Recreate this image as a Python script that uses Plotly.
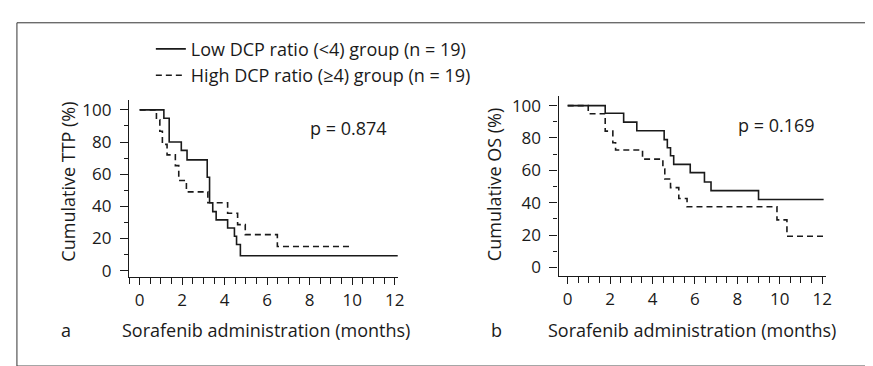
import plotly.graph_objects as go

# ---- data ----
ttp_low_t = [0, 1.14, 1.39, 1.96, 2.23, 3.18, 3.29, 3.44, 3.60, 4.14, 4.46, 4.56, 4.74, 12.15]
ttp_low_v = [100, 94.8, 80.0, 74.8, 68.9, 58.1, 42.2, 36.7, 31.6, 26.5, 21.4, 16.3, 9.3, 9.3]
ttp_high_t = [0, 0.79, 0.95, 1.07, 1.29, 1.68, 1.84, 2.20, 3.21, 4.14, 4.61, 4.97, 6.48, 9.98]
ttp_high_v = [100, 93.8, 86.7, 78.5, 72.0, 65.3, 56.1, 49.0, 42.2, 35.7, 28.6, 22.4, 15.0, 15.0]

os_low_t = [0, 1.77, 2.64, 3.26, 4.55, 4.70, 4.85, 5.00, 5.78, 6.45, 6.76, 9.00, 12.07]
os_low_v = [100, 95.3, 89.8, 84.5, 79.0, 74.0, 69.0, 63.7, 58.6, 52.8, 47.5, 42.0, 42.0]
os_high_t = [0, 0.97, 1.77, 2.13, 2.26, 3.53, 4.49, 4.58, 4.85, 5.24, 5.63, 9.87, 10.34, 12.07]
os_high_v = [100, 95.0, 84.2, 77.0, 72.6, 66.9, 60.8, 54.7, 49.3, 42.6, 37.5, 29.4, 19.3, 19.3]

series_names = ["Low DCP ratio (<4) group (n = 19)", "High DCP ratio (\u22654) group (n = 19)"]
x_ticks = [0, 2, 4, 6, 8, 10, 12]
y_ticks = [0, 20, 40, 60, 80, 100]
y_titles = ["Cumulative TTP (%)", "Cumulative OS (%)"]
x_title = "Sorafenib administration (months)"
p_values = ["p = 0.874", "p = 0.169"]
panel_labels = ["a", "b"]

W, H = 873, 366
FONT = "Open Sans"
INK = "#1a1a1a"
DASH = "6px,4px"
TXT = 18
TICK = 17

fig = go.Figure()
fig.add_trace(go.Scatter(x=ttp_low_t, y=ttp_low_v, mode="lines", line_shape="hv",
                         line=dict(color=INK, width=1.6), name=series_names[0],
                         xaxis="x", yaxis="y", legendgroup="low"))
fig.add_trace(go.Scatter(x=ttp_high_t, y=ttp_high_v, mode="lines", line_shape="hv",
                         line=dict(color=INK, width=1.6, dash=DASH), name=series_names[1],
                         xaxis="x", yaxis="y", legendgroup="high"))
fig.add_trace(go.Scatter(x=os_low_t, y=os_low_v, mode="lines", line_shape="hv",
                         line=dict(color=INK, width=1.6), name=series_names[0],
                         xaxis="x2", yaxis="y2", legendgroup="low", showlegend=False))
fig.add_trace(go.Scatter(x=os_high_t, y=os_high_v, mode="lines", line_shape="hv",
                         line=dict(color=INK, width=1.6, dash=DASH), name=series_names[1],
                         xaxis="x2", yaxis="y2", legendgroup="high", showlegend=False))

def px_x(p):
    return p / W

def px_y(p):
    return 1 - p / H

xcommon = dict(showline=True, linecolor=INK, linewidth=1.2, ticks="outside", ticklen=7,
               tickcolor=INK, tickwidth=1, tickvals=x_ticks, showgrid=False, zeroline=False,
               tickfont=dict(family=FONT, size=TICK, color=INK),
               minor=dict(dtick=0.5, tick0=0, ticks="outside", ticklen=6, tickcolor=INK, showgrid=False))
ycommon = dict(showline=True, linecolor=INK, linewidth=1.2, ticks="outside", ticklen=8,
               tickcolor=INK, tickwidth=1, tickvals=y_ticks, showgrid=False, zeroline=False,
               tickfont=dict(family=FONT, size=TICK, color=INK), ticklabelstandoff=5,
               minor=dict(dtick=10, tick0=0, ticks="outside", ticklen=4, tickcolor=INK, showgrid=False))

fig.update_layout(
    width=W, height=H,
    margin=dict(l=0, r=0, t=0, b=0),
    paper_bgcolor="white", plot_bgcolor="white",
    font=dict(family=FONT, size=TXT, color=INK),
    xaxis=dict(domain=[px_x(122), px_x(393)], range=[-0.5, 12.15], anchor="y", **xcommon),
    yaxis=dict(domain=[px_y(271.7), px_y(91.7)], range=[-4.1, 106], anchor="x", **ycommon),
    xaxis2=dict(domain=[px_x(555), px_x(825)], range=[-0.43, 12.2], anchor="y2", **xcommon),
    yaxis2=dict(domain=[px_y(270.5), px_y(87.3)], range=[-5.3, 106], anchor="x2", **ycommon),
    legend=dict(x=px_x(144), y=px_y(21), xanchor="left", yanchor="top",
                font=dict(family=FONT, size=TXT, color=INK), bgcolor="rgba(0,0,0,0)",
                tracegroupgap=0, itemwidth=30),
    showlegend=True,
)

def txt(s, x, y, angle=0, anchor="center"):
    return dict(text=s, x=px_x(x), y=px_y(y), xref="paper", yref="paper",
                xanchor=anchor, yanchor="middle", textangle=angle, showarrow=False,
                font=dict(family=FONT, size=TXT, color=INK))

annos = [
    txt(y_titles[0], 61, 175, angle=-90),
    txt(y_titles[1], 490, 178, angle=-90),
    txt(x_title, 260, 325),
    txt(x_title, 690, 325),
    txt(panel_labels[0], 58, 325),
    txt(panel_labels[1], 492, 325),
    txt(p_values[0], 343, 120),
    txt(p_values[1], 775, 117),
]
fig.update_layout(annotations=annos)

# outer frame of the figure
fig.add_shape(type="rect", xref="paper", yref="paper",
              x0=px_x(9), x1=px_x(867), y0=px_y(362), y1=px_y(13),
              line=dict(color="#333333", width=1))

fig.write_html("out.html")
